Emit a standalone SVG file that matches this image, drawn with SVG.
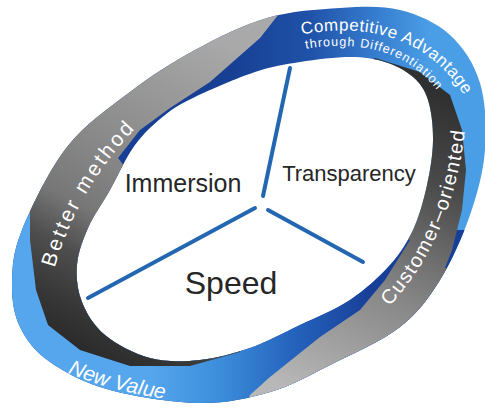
<svg xmlns="http://www.w3.org/2000/svg" xmlns:xlink="http://www.w3.org/1999/xlink" width="485" height="412" viewBox="0 0 485 412">
<style>
.band{font-family:"Liberation Sans",Arial,sans-serif;fill:#ffffff;}
.core{font-family:"Liberation Sans",Arial,sans-serif;fill:#262626;text-anchor:middle;}
.conn{stroke:#2367b2;stroke-width:4;stroke-linecap:round;fill:none;}
</style>
<defs>
<clipPath id="ring">
<path clip-rule="evenodd" d="M267,18 C291.2,11 317.8,9.3 340,8 C362.2,6.7 381.7,5.5 400,10 C418.3,14.5 436.7,22.8 450,35 C463.3,47.2 474.2,63.8 480,83 C485.8,102.2 486.7,128 485,150 C483.3,172 477.5,193.3 470,215 C462.5,236.7 451.7,261.3 440,280 C428.3,298.7 418.3,312.8 400,327 C381.7,341.2 351.7,354.2 330,365 C308.3,375.8 291.7,385.7 270,392 C248.3,398.3 226.7,403.3 200,403 C173.3,402.7 135,396.8 110,390 C85,383.2 65,372.5 50,362 C35,351.5 26.3,340.2 20,327 C13.7,313.8 11.7,299.2 12,283 C12.3,266.8 12.8,252.7 22,230 C31.2,207.3 49,170 67,147 C85,124 108.7,108.2 130,92 C151.3,75.8 172.2,62.3 195,50 C217.8,37.7 242.8,25 267,18 Z M300,62 C315.8,59.5 335.8,57 350,57 C364.2,57 374.5,58.7 385,62 C395.5,65.3 405.8,70.7 413,77 C420.2,83.3 424.7,89.5 428,100 C431.3,110.5 433.2,125.8 433,140 C432.8,154.2 430.3,170 427,185 C423.7,200 419.2,216.7 413,230 C406.8,243.3 400.5,253.3 390,265 C379.5,276.7 365,290 350,300 C335,310 316.7,317 300,325 C283.3,333 266.7,342.2 250,348 C233.3,353.8 216.7,358.3 200,360 C183.3,361.7 165.8,362.2 150,358 C134.2,353.8 116.3,344.3 105,335 C93.7,325.7 86.7,313.7 82,302 C77.3,290.3 76,277.3 77,265 C78,252.7 82.5,240.5 88,228 C93.5,215.5 102.2,203.8 110,190 C117.8,176.2 125.8,157.5 135,145 C144.2,132.5 155,123 165,115 C175,107 180,104.2 195,97 C210,89.8 237.5,77.8 255,72 C272.5,66.2 284.2,64.5 300,62 Z"/>
</clipPath>
<linearGradient id="gTop" gradientUnits="userSpaceOnUse" x1="230" y1="0" x2="430" y2="0">
<stop offset="0" stop-color="#173f93"/><stop offset="0.4" stop-color="#1f52a8"/><stop offset="0.7" stop-color="#3479cc"/><stop offset="1" stop-color="#4a9ee6"/>
</linearGradient>
<linearGradient id="gBot" gradientUnits="userSpaceOnUse" x1="370" y1="0" x2="150" y2="0">
<stop offset="0" stop-color="#183f98"/><stop offset="0.35" stop-color="#2563bd"/><stop offset="0.7" stop-color="#3d8fdc"/><stop offset="1" stop-color="#55a6ec"/>
</linearGradient>
<linearGradient id="gGreyL" gradientUnits="userSpaceOnUse" x1="220" y1="40" x2="60" y2="340">
<stop offset="0" stop-color="#a9a9a9"/><stop offset="0.45" stop-color="#878787"/><stop offset="0.62" stop-color="#777777"/><stop offset="0.75" stop-color="#4e4e4e"/><stop offset="0.9" stop-color="#363636"/><stop offset="1" stop-color="#2a2a2a"/>
</linearGradient>
<linearGradient id="gGreyR" gradientUnits="userSpaceOnUse" x1="430" y1="90" x2="290" y2="390">
<stop offset="0" stop-color="#303030"/><stop offset="0.25" stop-color="#4a4a4a"/><stop offset="0.6" stop-color="#858585"/><stop offset="1" stop-color="#b8b8b8"/>
</linearGradient>
<path id="tpBetter" d="M54,270 Q80,178 156,108"/>
<path id="tpComp1" d="M300,35 C350,25 425,26 468,102"/>
<path id="tpComp2" d="M304,49 C350,41 412,44 446,104"/>
<path id="tpCust" d="M388,308 Q456,235 466,120"/>
<path id="tpNew" d="M66,372 Q110,392 180,401"/>
</defs>

<g id="ring">
<g clip-path="url(#ring)">
<rect x="0" y="0" width="485" height="412" fill="url(#gTop)"/>
<polygon points="0,200 60,200 150,330 300,300 420,230 485,230 485,412 0,412" fill="url(#gBot)"/>
<polygon points="-10,-10 282,-10 282,10 260,38 210,82 170,108 140,130 118,158 150,200 250,300 240,352 190,366 130,366 80,350 48,325 36,290 30,240 30,195 -10,195" fill="url(#gGreyL)"/>
<polygon points="340,80 375,58 420,72 450,95 462,130 466,170 462,210 452,250 445,268 470,275 470,420 240,420 250,395 270,377 320,337 360,310 385,280 410,240 300,200" fill="url(#gGreyR)"/>
</g>
</g>

<g id="label-better-method">
<text class="band" font-size="21" letter-spacing="2.5"><textPath xlink:href="#tpBetter" href="#tpBetter" startOffset="2">Better method</textPath></text>
</g>
<g id="label-competitive">
<text class="band" font-size="17" letter-spacing="0.5"><textPath xlink:href="#tpComp1" href="#tpComp1" startOffset="2">Competitive Advantage</textPath></text>
<text class="band" font-size="12.5" letter-spacing="1"><textPath xlink:href="#tpComp2" href="#tpComp2" startOffset="2">through Differentiation</textPath></text>
</g>
<g id="label-customer">
<text class="band" font-size="20" letter-spacing="1.5"><textPath xlink:href="#tpCust" href="#tpCust" startOffset="2">Customer–oriented</textPath></text>
</g>
<g id="label-new-value">
<text class="band" font-size="21" font-style="italic"><textPath xlink:href="#tpNew" href="#tpNew" startOffset="2">New Value</textPath></text>
</g>

<g id="connectors">
<line class="conn" x1="290" y1="68" x2="263" y2="196"/>
<line class="conn" x1="255" y1="208" x2="88" y2="298"/>
<line class="conn" x1="268" y1="210" x2="363" y2="262"/>
</g>

<g id="node-immersion"><text class="core" x="183" y="192" font-size="25">Immersion</text></g>
<g id="node-transparency"><text class="core" x="349" y="181" font-size="22">Transparency</text></g>
<g id="node-speed"><text class="core" x="231" y="294" font-size="32">Speed</text></g>
</svg>
